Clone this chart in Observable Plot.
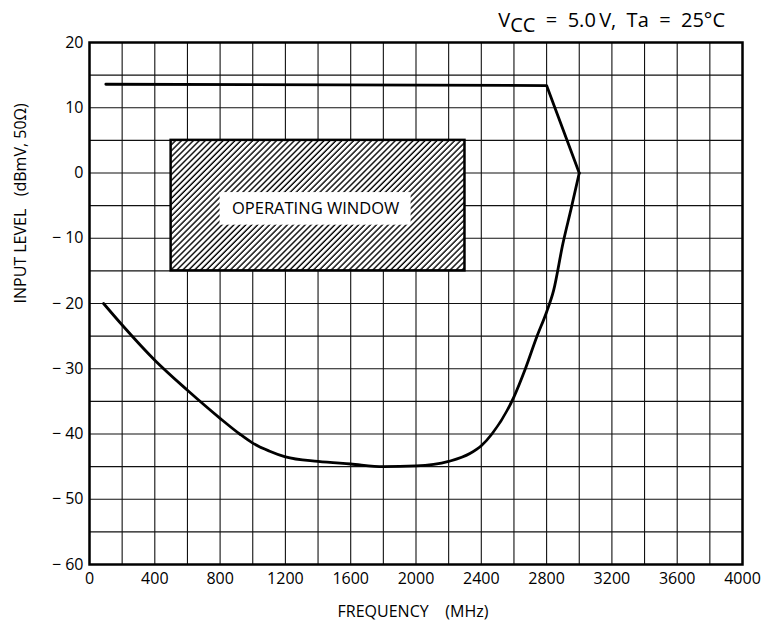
<!DOCTYPE html>
<html>
<head>
<meta charset="utf-8">
<script src="https://cdn.jsdelivr.net/npm/d3@7"></script>
<script src="https://cdn.jsdelivr.net/npm/@observablehq/plot@0.6"></script>
<style>
  body { margin: 0; background: white; }
</style>
</head>
<body>
<div id="chart"></div>
<script>
// Upper limit (overload) line
const upperFreq  = [100, 2800, 3000];
const upperLevel = [13.6, 13.4, 0];

// Lower limit (sensitivity) curve
const lowerFreq  = [86, 200, 400, 600, 800, 920, 1000, 1100, 1200, 1400, 1600, 1800, 2000, 2200, 2330, 2400, 2465, 2600, 2670, 2740, 2800, 2843, 2900, 2950, 3000];
const lowerLevel = [-20, -23.3, -28.7, -33.3, -37.6, -40, -41.4, -42.6, -43.5, -44.2, -44.6, -45, -44.9, -44.2, -43, -41.8, -40, -34.3, -30, -25.1, -21.3, -18, -10.8, -5.5, 0];

// Operating window (MHz, dBmV)
const windowFreq  = [500, 2300];
const windowLevel = [-15, 5];
const windowLabel = "OPERATING WINDOW";
const labelBoxFreq  = [800, 1970];
const labelBoxLevel = [-8, -3];

// Axis ticks
const xTicks = [0, 400, 800, 1200, 1600, 2000, 2400, 2800, 3200, 3600, 4000];
const yTicks = [20, 10, 0, -10, -20, -30, -40, -50, -60];
const xGrid = d3.range(0, 4001, 200);
const yGrid = d3.range(-60, 21, 5);

const xLabel = "FREQUENCY\u00a0\u00a0\u00a0\u00a0(MHz)";
const yLabel = "INPUT LEVEL\u00a0\u00a0\u00a0(dBmV,\u00a050\u03a9)";

const upper = upperFreq.map((f, i) => ({f, v: upperLevel[i]}));
const lower = lowerFreq.map((f, i) => ({f, v: lowerLevel[i]}));

const hatchDefs = () => {
  const defs = document.createElementNS("http://www.w3.org/2000/svg", "defs");
  defs.innerHTML = '<pattern id="hatch" width="4.2" height="4.2" patternUnits="userSpaceOnUse" patternTransform="rotate(45)"><rect width="4.2" height="4.2" fill="white"/><line x1="1" y1="0" x2="1" y2="4.2" stroke="black" stroke-width="1.4"/></pattern>';
  return defs;
};

const fmtY = d => d < 0 ? "\u2212 " + Math.abs(d) : String(d);
const fmtX = d => String(d);

const chart = Plot.plot({
  width: 761,
  height: 627,
  marginLeft: 89,
  marginRight: 19,
  marginTop: 42,
  marginBottom: 63,
  style: {fontFamily: "'Open Sans', sans-serif", fontSize: "16px", color: "black", background: "white", overflow: "visible"},
  x: {domain: [0, 4000], ticks: xTicks, tickSize: 0, tickPadding: 8, tickFormat: fmtX, label: null},
  y: {domain: [-60, 20], ticks: yTicks, tickSize: 0, tickPadding: 6, tickFormat: fmtY, label: null},
  marks: [
    hatchDefs,
    Plot.gridX(xGrid, {stroke: "#111", strokeOpacity: 1, strokeWidth: 1.1}),
    Plot.gridY(yGrid, {stroke: "#111", strokeOpacity: 1, strokeWidth: 1.1}),
    Plot.rect([0], {x1: () => windowFreq[0], x2: () => windowFreq[1], y1: () => windowLevel[0], y2: () => windowLevel[1], fill: "url(#hatch)", stroke: "black", strokeWidth: 2.5}),
    Plot.rect([0], {x1: () => labelBoxFreq[0], x2: () => labelBoxFreq[1], y1: () => labelBoxLevel[0], y2: () => labelBoxLevel[1], fill: "white"}),
    Plot.text([windowLabel], {x: () => (labelBoxFreq[0] + labelBoxFreq[1]) / 2, y: () => (labelBoxLevel[0] + labelBoxLevel[1]) / 2, text: d => d, fontSize: 16.5, fill: "black"}),
    Plot.line(upper, {x: "f", y: "v", stroke: "black", strokeWidth: 2.8}),
    Plot.line(lower, {x: "f", y: "v", stroke: "black", strokeWidth: 2.8, curve: "monotone-x"}),
    Plot.frame({stroke: "black", strokeWidth: 2.5}),
    Plot.text([yLabel], {frameAnchor: "left", dx: -69, rotate: -90, text: d => d, fontSize: 16, fill: "black"}),
    Plot.text([xLabel], {frameAnchor: "bottom", dy: 52, dx: -3, text: d => d, fontSize: 16, fill: "black"})
  ]
});

// Title with subscript
const svg = d3.select(chart);
const t = svg.append("text")
  .attr("x", 725).attr("y", 27)
  .attr("text-anchor", "end")
  .attr("font-family", "'Open Sans', sans-serif")
  .attr("font-size", 20)
  .attr("fill", "black");
t.append("tspan").text("V");
t.append("tspan").attr("dy", 5).text("CC");
t.append("tspan").attr("dy", -5).text("\u00a0\u00a0=\u00a0\u00a05.0\u2009V,\u00a0\u00a0Ta\u00a0\u00a0=\u00a0\u00a025\u00b0C");

document.getElementById("chart").appendChild(chart);
</script>
</body>
</html>
